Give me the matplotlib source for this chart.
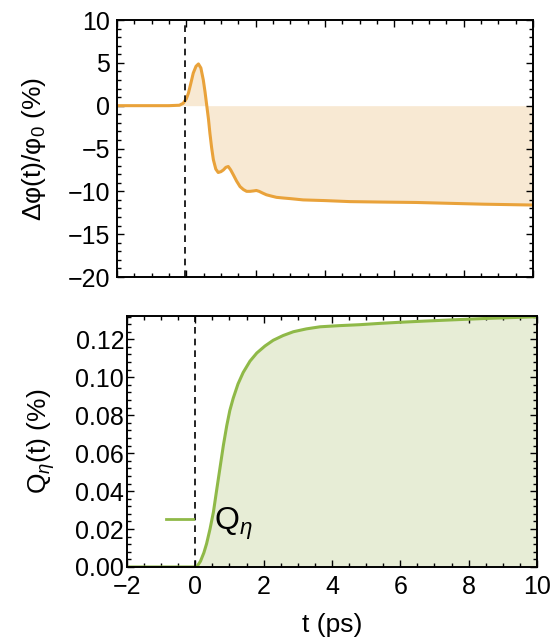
import numpy as np
import matplotlib
matplotlib.use("Agg")
import matplotlib.pyplot as plt
from matplotlib.ticker import MultipleLocator, FormatStrFormatter
from matplotlib.lines import Line2D

plt.rcParams['font.family'] = ['Liberation Sans', 'DejaVu Sans']
plt.rcParams['mathtext.fontset'] = 'custom'
plt.rcParams['mathtext.rm'] = 'Liberation Sans'
plt.rcParams['mathtext.it'] = 'Liberation Sans:italic'

# relative change of phi (%)
t_phi = [-2.0, -0.5, -0.2, -0.09, 0.0, 0.06, 0.13, 0.2, 0.28, 0.35, 0.42, 0.49, 0.54,
         0.59, 0.64, 0.68, 0.73, 0.78, 0.85, 0.92, 1.0, 1.07, 1.14, 1.21, 1.28,
         1.36, 1.45, 1.55, 1.65, 1.74, 1.84, 1.94, 2.02, 2.1, 2.2, 2.31, 2.45, 2.6,
         2.8, 3.0, 3.37, 4.0, 4.72, 5.6, 6.64, 7.6, 8.57, 9.3, 10.0]
phi = [0.0, 0.0, 0.05, 0.28, 0.8, 1.45, 2.6, 3.8, 4.6, 4.87, 4.4, 3.0, 1.6,
       0.0, -1.6, -3.2, -4.9, -6.3, -7.4, -7.8, -7.7, -7.5, -7.2, -7.1, -7.5,
       -8.1, -8.8, -9.45, -9.8, -10.0, -10.0, -9.95, -9.9, -10.0, -10.2, -10.4, -10.55, -10.7,
       -10.78, -10.85, -11.0, -11.08, -11.2, -11.25, -11.3, -11.4, -11.5, -11.55, -11.6]

# Q_eta (%)
t_q = [-2.0, 0.0, 0.04, 0.15, 0.25, 0.33, 0.43, 0.53, 0.62, 0.72, 0.82, 0.92, 1.01, 1.11,
       1.25, 1.4, 1.6, 1.8, 2.04, 2.28, 2.57, 2.87, 3.25, 3.65, 4.2, 4.8, 5.4,
       6.0, 6.7, 7.45, 8.5, 10.0]
q = [0.0, 0.0, 0.0, 0.003, 0.0075, 0.0123, 0.020, 0.029, 0.040, 0.052, 0.064, 0.0745, 0.0825, 0.089,
     0.0965, 0.1025, 0.1085, 0.1128, 0.1165, 0.1195, 0.122, 0.124, 0.1255, 0.1266, 0.1272, 0.1277, 0.1284,
     0.129, 0.1296, 0.1302, 0.131, 0.1319]

orange = '#E9A23A'
orange_fill = '#F8E9D3'
green = '#8FB948'
green_fill = '#E7EDD6'

fig = plt.figure(figsize=(5.56, 6.39), dpi=100)
ax1 = fig.add_axes([0.2104, 0.5665, 0.7482, 0.4022])
ax2 = fig.add_axes([0.2284, 0.1127, 0.7374, 0.3928])

for ax in (ax1, ax2):
    ax.tick_params(which='both', direction='in', top=True, right=True, width=1.0,
                   labelsize=18, colors='black')
    ax.tick_params(which='major', length=5)
    ax.tick_params(which='minor', length=2.8)
    for s in ax.spines.values():
        s.set_linewidth(1.4)
    ax.set_xlim(-2, 10)
    ax.xaxis.set_major_locator(MultipleLocator(2))
    ax.xaxis.set_minor_locator(MultipleLocator(0.5))

ax1.axvline(-0.03, color='black', lw=1.2, ls=(0, (4, 3)), zorder=3)
ax2.axvline(0, color='black', lw=1.2, ls=(0, (4, 3)), zorder=3)

# top panel
ax1.fill_between(t_phi, phi, 0, color=orange_fill, lw=0, zorder=1)
ax1.plot(t_phi, phi, color=orange, lw=2.2, zorder=2)
ax1.set_ylim(-20, 10)
ax1.yaxis.set_major_locator(MultipleLocator(5))
ax1.yaxis.set_minor_locator(MultipleLocator(1))
ax1.tick_params(axis='x', labelbottom=False)
ax1.tick_params(axis='y', pad=5)
ax1.set_ylabel('Δφ(t)/φ$_0$ (%)', fontsize=19)
ax1.yaxis.set_label_coords(-0.166, 0.5)

# bottom panel
ax2.fill_between(t_q, q, 0, color=green_fill, lw=0, zorder=1)
ax2.plot(t_q, q, color=green, lw=2.2, zorder=2)
ax2.set_ylim(0, 0.1323)
ax2.yaxis.set_major_locator(MultipleLocator(0.02))
ax2.yaxis.set_minor_locator(MultipleLocator(0.004))
ax2.yaxis.set_major_formatter(FormatStrFormatter('%.2f'))
ax2.tick_params(axis='y', pad=2)
ax2.tick_params(axis='x', pad=6)
ax2.set_ylabel(r'Q$_\eta$(t) (%)', fontsize=19)
ax2.yaxis.set_label_coords(-0.17, 0.5)
ax2.set_xlabel('t (ps)', fontsize=19)
ax2.xaxis.set_label_coords(0.5, -0.185)

handle = Line2D([], [], color=green, lw=2.0)
ax2.legend([handle], [r'Q$_\eta$'], loc='center left', bbox_to_anchor=(0.095, 0.17),
           frameon=False, fontsize=23, handlelength=0.85, handletextpad=0.65,
           borderpad=0, borderaxespad=0)

fig.savefig('out.png', dpi=100)
